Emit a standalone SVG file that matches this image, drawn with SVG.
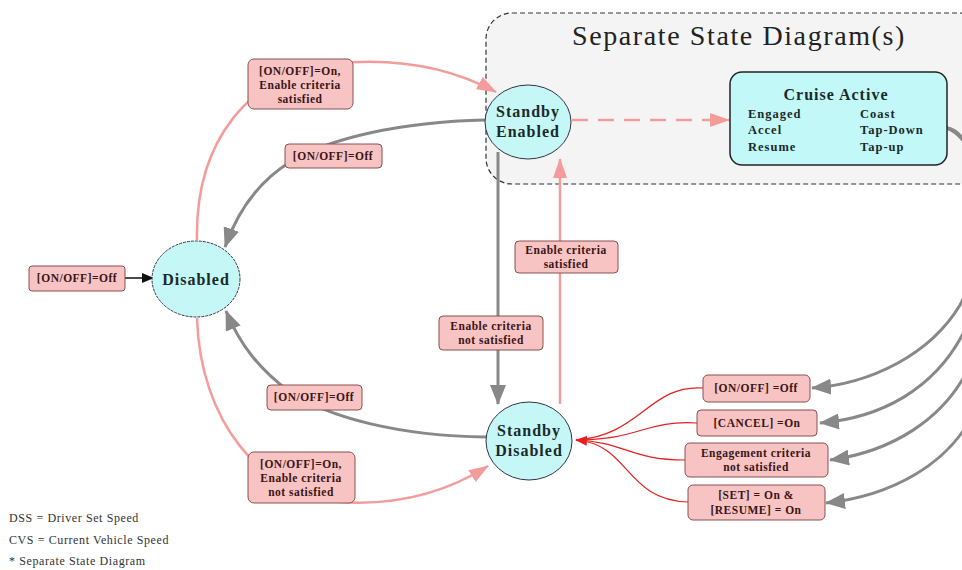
<svg xmlns="http://www.w3.org/2000/svg" width="962" height="570" viewBox="0 0 962 570">
<defs>
<style>
.node{fill:#c6f7f7;stroke:#334;stroke-width:1}
.nt{font-family:"Liberation Serif",serif;font-weight:bold;font-size:16px;fill:#1a2a2a;text-anchor:middle;letter-spacing:1px}
.lb{fill:#f7c3c3;stroke:#8a5050;stroke-width:1}
.lt{font-family:"Liberation Serif",serif;font-weight:bold;font-size:11.5px;fill:#3a1515;text-anchor:middle;letter-spacing:0.5px}
.pink{fill:none;stroke:#f49c9c;stroke-width:2.5}
.gray{fill:none;stroke:#888;stroke-width:3}
.red{fill:none;stroke:#e42020;stroke-width:1.2}
.leg{font-family:"Liberation Serif",serif;font-size:12px;fill:#333;letter-spacing:0.6px}
.ct{font-family:"Liberation Serif",serif;font-weight:bold;font-size:12.5px;fill:#1a2a2a;letter-spacing:1px}
</style>
<marker id="ap" markerWidth="20" markerHeight="14" refX="19" refY="7" orient="auto" markerUnits="userSpaceOnUse"><path d="M0,0 L20,7 L0,14 z" fill="#f49c9c"/></marker>
<marker id="ag" markerWidth="20" markerHeight="16" refX="19" refY="8" orient="auto" markerUnits="userSpaceOnUse"><path d="M0,0 L20,8 L0,16 z" fill="#888"/></marker>
<marker id="ar" markerWidth="12" markerHeight="10" refX="11" refY="5" orient="auto" markerUnits="userSpaceOnUse"><path d="M0,0 L12,5 L0,10 z" fill="#e42020"/></marker>
<marker id="ab" markerWidth="12" markerHeight="10" refX="11" refY="5" orient="auto" markerUnits="userSpaceOnUse"><path d="M0,0 L12,5 L0,10 z" fill="#111"/></marker>
</defs>
<rect width="962" height="570" fill="#fff"/>

<g id="container">
<rect x="486" y="13" width="500" height="171" rx="26" fill="#f4f4f4" stroke="#333" stroke-width="1.2" stroke-dasharray="5,3"/>
<text x="739" y="45" font-family="Liberation Serif,serif" font-size="28" fill="#222" text-anchor="middle" letter-spacing="1.6">Separate State Diagram(s)</text>
</g>

<g id="connectors">
<path class="red" d="M703,388 C650,384 640,436 576,440"/>
<path class="red" d="M697,423 C645,420 640,440 576,440"/>
<path class="red" d="M685,460 C630,460 625,442 576,440"/>
<path class="red" d="M688,502 C625,500 630,444 576,440" marker-end="url(#ar)"/>
<path d="M125,278 L153,278" stroke="#111" stroke-width="1.5" fill="none" marker-end="url(#ab)"/>
<path class="pink" d="M197,240 C195,140 250,75 330,64 C400,56 455,70 496,92" marker-end="url(#ap)"/>
<path class="pink" d="M197,318 C200,420 260,495 340,502 C400,506 450,490 488,466" marker-end="url(#ap)"/>
<path class="gray" d="M485,120 C400,122 330,138 290,162 C258,182 238,210 225,247" marker-end="url(#ag)"/>
<path class="gray" d="M486,437 C400,436 330,418 290,392 C260,370 240,345 226,311" marker-end="url(#ag)"/>
<path class="gray" d="M498,152 L498,404" marker-end="url(#ag)"/>
<path class="pink" d="M560,404 L560,159" marker-end="url(#ap)"/>
<path class="pink" d="M572,120 L729,120" stroke-dasharray="16,10" marker-end="url(#ap)"/>
<path class="gray" d="M947,128 C985,132 985,260 960,305 C930,355 870,384 812,388" marker-end="url(#ag)"/>
<path class="gray" d="M947,128 C992,138 992,290 965,330 C935,390 880,418 820,423" marker-end="url(#ag)"/>
<path class="gray" d="M947,128 C998,145 998,320 970,365 C945,420 890,452 830,460" marker-end="url(#ag)"/>
<path class="gray" d="M947,128 C1005,150 1005,360 975,410 C950,465 890,496 826,503" marker-end="url(#ag)"/>
</g>

<g id="cruise-active">
<rect x="730" y="72" width="217" height="93" rx="12" fill="#c2f8f8" stroke="#222" stroke-width="1.5"/>
<text x="836" y="100" class="ct" style="font-size:16px" text-anchor="middle">Cruise Active</text>
<text x="748" y="118" class="ct">Engaged</text>
<text x="748" y="134" class="ct">Accel</text>
<text x="748" y="151" class="ct">Resume</text>
<text x="860" y="118" class="ct">Coast</text>
<text x="860" y="134" class="ct">Tap-Down</text>
<text x="860" y="151" class="ct">Tap-up</text>
</g>

<g id="disabled">
<ellipse class="node" cx="196" cy="279" rx="44" ry="38" stroke-dasharray="3,1"/>
<text class="nt" x="196" y="285">Disabled</text>
</g>
<g id="standby-enabled">
<ellipse class="node" cx="528" cy="122" rx="43" ry="37"/>
<text class="nt" x="528" y="117">Standby</text>
<text class="nt" x="528" y="137">Enabled</text>
</g>
<g id="standby-disabled">
<ellipse class="node" cx="529" cy="441" rx="43" ry="39"/>
<text class="nt" x="529" y="436">Standby</text>
<text class="nt" x="529" y="456">Disabled</text>
</g>

<g id="lbl-init">
<rect class="lb" x="29" y="266" width="96" height="25" rx="3"/>
<text class="lt" x="77" y="282">[ON/OFF]=Off</text>
</g>
<g id="lbl-on-enable">
<rect class="lb" x="248" y="59" width="105" height="50" rx="6"/>
<text class="lt" x="300" y="75">[ON/OFF]=On,</text>
<text class="lt" x="300" y="89">Enable criteria</text>
<text class="lt" x="300" y="103">satisfied</text>
</g>
<g id="lbl-off-upper">
<rect class="lb" x="285" y="144" width="97" height="24" rx="4"/>
<text class="lt" x="333" y="160">[ON/OFF]=Off</text>
</g>
<g id="lbl-enable-sat">
<rect class="lb" x="515" y="241" width="103" height="32" rx="4"/>
<text class="lt" x="566" y="254">Enable criteria</text>
<text class="lt" x="566" y="268">satisfied</text>
</g>
<g id="lbl-enable-notsat">
<rect class="lb" x="439" y="316" width="104" height="34" rx="4"/>
<text class="lt" x="491" y="330">Enable criteria</text>
<text class="lt" x="491" y="344">not satisfied</text>
</g>
<g id="lbl-off-lower">
<rect class="lb" x="267" y="385" width="95" height="25" rx="4"/>
<text class="lt" x="314" y="401">[ON/OFF]=Off</text>
</g>
<g id="lbl-on-notsat">
<rect class="lb" x="248" y="452" width="107" height="51" rx="6"/>
<text class="lt" x="301" y="468">[ON/OFF]=On,</text>
<text class="lt" x="301" y="482">Enable criteria</text>
<text class="lt" x="301" y="496">not satisfied</text>
</g>
<g id="lbl-onoff-off">
<rect class="lb" x="703" y="375" width="107" height="27" rx="5"/>
<text class="lt" x="756" y="392">[ON/OFF] =Off</text>
</g>
<g id="lbl-cancel">
<rect class="lb" x="697" y="410" width="120" height="26" rx="4"/>
<text class="lt" x="757" y="427">[CANCEL] =On</text>
</g>
<g id="lbl-engagement">
<rect class="lb" x="685" y="443" width="143" height="34" rx="5"/>
<text class="lt" x="756" y="457">Engagement criteria</text>
<text class="lt" x="756" y="471">not satisfied</text>
</g>
<g id="lbl-set-resume">
<rect class="lb" x="688" y="485" width="137" height="35" rx="5"/>
<text class="lt" x="756" y="499">[SET] = On &amp;</text>
<text class="lt" x="756" y="514">[RESUME] = On</text>
</g>

<g id="legend">
<text class="leg" x="9" y="522">DSS = Driver Set Speed</text>
<text class="leg" x="9" y="544">CVS = Current Vehicle Speed</text>
<text class="leg" x="9" y="565">* Separate State Diagram</text>
</g>
</svg>
